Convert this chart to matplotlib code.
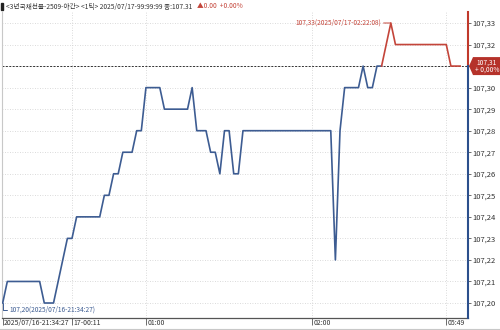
import matplotlib
matplotlib.use('Agg')

import matplotlib.pyplot as plt
import matplotlib.transforms as mtrans
from matplotlib.patches import Polygon, Rectangle
from matplotlib.lines import Line2D

plt.rcParams['font.family'] = ['Noto Sans CJK KR', 'DejaVu Sans']

# 1-tick price series (tick index -> price)
prices = [
    107.20,
    107.21, 107.21, 107.21, 107.21, 107.21, 107.21, 107.21, 107.21,
    107.20, 107.20, 107.20,
    107.21, 107.22,
    107.23, 107.23,
    107.24, 107.24, 107.24, 107.24, 107.24, 107.24,
    107.25, 107.25,
    107.26, 107.26,
    107.27, 107.27, 107.27,
    107.28, 107.28,
    107.30, 107.30, 107.30, 107.30,
    107.29, 107.29, 107.29, 107.29, 107.29, 107.29,
    107.30,
    107.28, 107.28, 107.28,
    107.27, 107.27,
    107.26,
    107.28, 107.28,
    107.26, 107.26,
    107.28, 107.28, 107.28, 107.28, 107.28, 107.28, 107.28, 107.28, 107.28, 107.28,
    107.28, 107.28, 107.28, 107.28, 107.28, 107.28, 107.28, 107.28, 107.28, 107.28,
    107.22,
    107.28,
    107.30, 107.30, 107.30, 107.30,
    107.31,
    107.30, 107.30,
    107.31, 107.31,
    107.32,
    107.33,
    107.32, 107.32, 107.32, 107.32, 107.32, 107.32, 107.32, 107.32, 107.32, 107.32, 107.32, 107.32,
    107.31, 107.31, 107.31,
]
split_idx = 82          # line turns red from here on
ref_price = 107.31      # reference (close) price

xtick_idx = [0, 15, 31, 67, 96]
xtick_labels = ['2025/07/16-21:34:27', '17-00:11', '01:00', '02:00', '05:49']
ytick_vals = [107.20, 107.21, 107.22, 107.23, 107.24, 107.25, 107.26,
              107.27, 107.28, 107.29, 107.30, 107.31, 107.32, 107.33]

max_label = '107,33(2025/07/17-02:22:08)'
min_label = '107,20(2025/07/16-21:34:27)'
title_main = '<3년국채선물-2509-야간> <1틱> 2025/07/17-99:99:99 종:107.31'
title_chg = '▲0.00  +0.00%'
box_label = '107,31\n+ 0,00%'

BLUE = '#3d5c92'
RED = '#c4453a'
AXIS_BLUE = '#2b4f8c'
AXIS_RED = '#c0392b'
GRID = '#cfcfcf'
TXT = '#333333'

fig = plt.figure(figsize=(5.0, 3.3), dpi=100)
ax = fig.add_axes([2 / 500, 12 / 330, 466 / 500, 306 / 330])

x = list(range(len(prices)))
ax.plot(x[:split_idx + 1], prices[:split_idx + 1], color=BLUE, lw=1.2, zorder=3)
ax.plot(x[split_idx:], prices[split_idx:], color=RED, lw=1.2, zorder=3)

ymin, ymax = 107.19304, 107.33511
ax.set_ylim(ymin, ymax)
ax.set_xlim(-0.15, 100.7)

# grid
for v in ytick_vals:
    ax.axhline(v, color=GRID, lw=0.6, ls=(0, (1, 2)), zorder=1)
for t in xtick_idx[1:]:
    ax.axvline(t, color=GRID, lw=0.6, ls=(0, (1, 2)), zorder=1)

# reference price line
ax.axhline(ref_price, color='#333333', lw=0.7, ls=(0, (2, 1.5)), zorder=2)

# spines
for s in ['top', 'right']:
    ax.spines[s].set_visible(False)
ax.spines['left'].set_color('#c8c8c8')
ax.spines['left'].set_linewidth(0.8)
ax.spines['bottom'].set_color('#555555')
ax.spines['bottom'].set_linewidth(0.9)

# right axis, coloured above / below the reference price
xr = ax.get_xlim()[1]
ax.plot([xr, xr], [ref_price, ymax], color=AXIS_RED, lw=1.5, clip_on=False, zorder=4)
ax.plot([xr, xr], [ymin, ref_price], color=AXIS_BLUE, lw=1.5, clip_on=False, zorder=4)

ax.yaxis.tick_right()
ax.set_yticks(ytick_vals)
# the last-price box sits where the reference price label would be
ax.set_yticklabels(['' if abs(v - ref_price) < 1e-9 else f'{v:.2f}'.replace('.', ',')
                    for v in ytick_vals])
ax.tick_params(axis='y', length=2, width=0.6, color='#555555', pad=1.5,
               labelsize=5.5, labelcolor=TXT)

ax.set_xticks(xtick_idx)
ax.set_xticklabels(xtick_labels)
ax.tick_params(axis='x', length=5, width=0.6, color='#555555', pad=-4,
               labelsize=5, labelcolor=TXT)
offset = mtrans.ScaledTranslation(1.5 / 100, 0, fig.dpi_scale_trans)
for lab in ax.get_xticklabels():
    lab.set_horizontalalignment('left')
    lab.set_transform(lab.get_transform() + offset)

# max / min annotations
imax = prices.index(max(prices))
ax.annotate(max_label, xy=(imax, prices[imax]), xytext=(-10, 0),
            textcoords='offset pixels', ha='right', va='center',
            fontsize=4.7, color=RED,
            arrowprops=dict(arrowstyle='-', color=RED, lw=0.7,
                            shrinkA=0, shrinkB=0))
imin = prices.index(min(prices))
ax.annotate(min_label, xy=(imin, prices[imin]), xytext=(7, -7),
            textcoords='offset pixels', ha='left', va='center',
            fontsize=4.7, color=BLUE,
            arrowprops=dict(arrowstyle='-', color=BLUE, lw=0.7,
                            shrinkA=0, shrinkB=0,
                            connectionstyle='angle,angleA=0,angleB=90,rad=0'))

# last price box on the right axis
fig.canvas.draw()
px, py = ax.transData.transform((xr, ref_price))
box = Polygon([(px + 1, py), (px + 5, py + 9), (px + 33, py + 9),
               (px + 33, py - 9), (px + 5, py - 9)],
              closed=True, transform=None, facecolor='#b5322a',
              edgecolor='none', zorder=6, clip_on=False)
fig.add_artist(box)
fig.text((px + 19) / 500, py / 330, box_label, ha='center', va='center',
         fontsize=4.8, color='white', linespacing=0.9, zorder=7)

# title
fig.add_artist(Rectangle((1 / 500, 1 - 10 / 330), 2 / 500, 7 / 330,
                         transform=fig.transFigure, color='#222222'))
t1 = fig.text(6 / 500, 1 - 6.5 / 330, title_main, ha='left', va='center',
              fontsize=4.8, color=TXT)
fig.canvas.draw()
bb = t1.get_window_extent()
fig.text((bb.x1 + 5) / 500, 1 - 6.5 / 330, title_chg, ha='left', va='center',
         fontsize=4.8, color=RED)

# outer border line
fig.add_artist(Line2D([0, 1], [1 / 330, 1 / 330], transform=fig.transFigure,
                      color='#c8c8c8', lw=0.8))

fig.savefig('out.png', dpi=100)
